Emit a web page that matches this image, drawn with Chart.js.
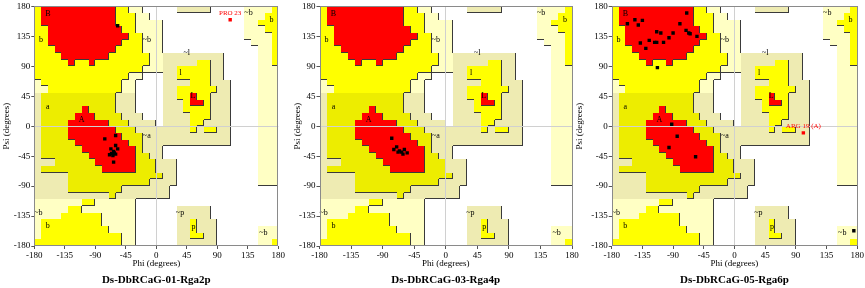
<!DOCTYPE html>
<html>
<head>
<meta charset="utf-8">
<script src="https://cdn.jsdelivr.net/npm/chart.js@4.4.1/dist/chart.umd.min.js"></script>
<style>
html, body { margin: 0; padding: 0; background: #fff; }
#wrap { position: relative; width: 865px; height: 288px; overflow: hidden; }
.box { position: absolute; top: 0; height: 288px; }
</style>
</head>
<body>
<div id="wrap">
  <div class="box" style="left:0px;width:290px"><canvas id="c1" width="290" height="288"></canvas></div>
  <div class="box" style="left:285px;width:295px"><canvas id="c2" width="295" height="288"></canvas></div>
  <div class="box" style="left:570px;width:295px"><canvas id="c3" width="295" height="288"></canvas></div>
</div>
<script>
// axis ticks (degrees)
const tickValues = [-180, -135, -90, -45, 0, 45, 90, 135, 180];

const titles = ['Ds-DbRCaG-01-Rga2p', 'Ds-DbRCaG-03-Rga4p', 'Ds-DbRCaG-05-Rga6p'];

// residues (phi, psi) for each model
const phi1 = [-57, -76, -60, -67, -60, -57, -63, -66, -62, -69, -60, -64, -63];
const psi1 = [151, -19, -14, -34, -29, -34, -38, -41, -40, -43, -42, -44, -54];

const phi2 = [-77, -74, -70, -66, -63, -59, -55, -61, -68];
const psi2 = [-18, -35, -31, -37, -39, -35, -40, -42, -39];

const phi3 = [-157, -146, -141, -135, -70, -80, -114, -108, -90, -71, -67, -65, -55,
              -138, -125, -130, -117, -114, -104, -96, -113, -92, -84, -96, -57, 175];
const psi3 = [154, 160, 152, 159, 170, 154, 142, 140, 140, 144, 140, 139, 135,
              125, 129, 117, 126, 126, 126, 133, 88, 3, -15, -32, -46, -157];

// residues in disallowed regions
const flagName = ['PRO 23', null, 'ARG 19 (A)'];
const flagPhi = [109, null, 101];
const flagPsi = [160, null, -10];

// region map, 10 degree cells; row 0 = psi 180..170, col 0 = phi -180..-170
// . disallowed, c/k generously allowed, y/a allowed, r core
const regionRows = [
  "yrrrrrrrrrrryycc.....kkkkk.....ccccy",
  "yrrrrrrrrrrryyycc..............cccyy",
  "yrrrrrrrrrrryyycccc............ccyyy",
  "yyrrrrrrrrrrryycccc............cccyy",
  "yyrrrrrrrrrrrryyccc............ccccy",
  "yyrrrrrrrrrrryyyccc.............cccy",
  "yyyrrrrrrrrryyyyccc..............ccy",
  "yyyyrrrrrrryyyyyycckkkkkkkkk.....ccy",
  "yyyyyryyryyyyyyyycckkkkkyykk.....ccy",
  "yyyyyyyyyyyyyyyyccckkyyyyykk.....ccc",
  "yyyyyyyyyyyyyycc...kkyyyyykk.....ccc",
  "cyyyyyyyyyyyycc....kkkkyyykkk....ccc",
  "ccyyyyyyyyyyycc....kkyyyyyykk....ccc",
  "kaaaaaaaaaaakkk....kkyyryykkk....ccc",
  "kaaaaaaaaaaakkk....kkkyrrykkk....ccc",
  "kaaaaaaraaaakkk....kkkyyyykkk....ccc",
  "kaaaaarrraaaakkk...kkkkyyykkk....ccc",
  "kaaaarrrrrraaakkkk.kkkkyykkkk....ccc",
  "kaaaarrrrrrraaakkkkkkkkykyykk....ccc",
  "kaaaarrrrrrrraaakkkkkkkkkkkkk....ccc",
  "kaaaaarrrrrrrraakkkkkkkkkkkkk....ccc",
  "kaaaaaarrrrrrrrakkk..............ccc",
  "kaaaaaaarrrrrrraakk..............ccc",
  "kkkaaaaaarrrrrraaakkk............ccc",
  "kaaaaaaaaarrrrraaakkk............ccc",
  "kkkkkaaaaaaaaaaaaaakk............ccc",
  "kkkkkaaaaaaaaaaaakkkk............ccc",
  "kkkkkaaaaaaaakkkkkkk................",
  "kkkkkkkkkkkakkkkkkkk................",
  "cccccccyycccccc.....................",
  "cccccyycccccccc......kkkkk..........",
  "ccccyyyyyyccccc......kkkkk..........",
  "cyyyyyyyyyccccc......kkykkk.........",
  "cyyyyyyyyyycccc......kkykkk......ccc",
  "cyyyyyyyyyyyycc......kkyykk......ccc",
  "yyyyyyyyyyyyycc......kkkkkk......ccy"
];
const regionColors = { c: '#FFFFC4', k: '#EEEBB2', y: '#FFFF00', a: '#EDED00', r: '#FF0000' };
const regionLevel = { '.': 0, c: 1, k: 1, y: 2, a: 2, r: 3 };

// region labels
const labelText = ['B', 'b', '~b', '~l', 'l', 'L', 'a', 'A', '~a', '~b', 'b', '~b', 'b', '~p', 'p', '~b'];
const labelPhi  = [-160, -170, -14, 45, 36, 54, -160, -110, -14, 136, 170, -174, -160, 35, 55, 158];
const labelPsi  = [169, 130, 130, 110, 80, 45, 29, 10, -15, 170, 160, -130, -150, -130, -151, -160];

const SERIF = "'Liberation Serif', 'Times New Roman', serif";

const regionPlugin = {
  id: 'regions',
  beforeDraw(chart) {
    const { ctx, scales: { x, y } } = chart;
    const px = v => Math.round(x.getPixelForValue(v));
    const py = v => Math.round(y.getPixelForValue(v));
    ctx.save();
    for (let r = 0; r < 36; r++) {
      for (let c = 0; c < 36; c++) {
        const code = regionRows[r][c];
        if (code === '.') continue;
        const x0 = px(-180 + c * 10), x1 = px(-170 + c * 10);
        const y0 = py(180 - r * 10), y1 = py(170 - r * 10);
        ctx.fillStyle = regionColors[code];
        ctx.fillRect(x0, y0, x1 - x0, y1 - y0);
      }
    }
    // dark edge on right / bottom side where the region drops a level
    ctx.fillStyle = '#3a3a3a';
    for (let r = 0; r < 36; r++) {
      for (let c = 0; c < 36; c++) {
        const lv = regionLevel[regionRows[r][c]];
        const x0 = px(-180 + c * 10), x1 = px(-170 + c * 10);
        const y0 = py(180 - r * 10), y1 = py(170 - r * 10);
        if (c < 35 && regionLevel[regionRows[r][c + 1]] < lv) ctx.fillRect(x1 - 1, y0, 1, y1 - y0);
        if (r < 35 && regionLevel[regionRows[r + 1][c]] < lv) ctx.fillRect(x0, y1 - 1, x1 - x0, 1);
      }
    }
    ctx.restore();
  },
  beforeDatasetsDraw(chart) {
    const { ctx, scales: { x, y } } = chart;
    ctx.save();
    ctx.fillStyle = '#000';
    ctx.font = '8px ' + SERIF;
    ctx.textAlign = 'center';
    ctx.textBaseline = 'middle';
    labelText.forEach((t, i) => {
      ctx.fillText(t, x.getPixelForValue(labelPhi[i]), y.getPixelForValue(labelPsi[i]));
    });
    ctx.restore();
  },
  afterDatasetsDraw(chart) {
    const { ctx, chartArea: a, scales: { x, y } } = chart;
    const k = chart.options.plugins.regions.index;
    ctx.save();
    ctx.strokeStyle = '#8a8a8a';
    ctx.lineWidth = 1;
    ctx.strokeRect(Math.round(a.left) + 0.5, Math.round(a.top) + 0.5,
                   Math.round(a.right - a.left) - 1, Math.round(a.bottom - a.top) - 1);
    if (flagName[k]) {
      ctx.fillStyle = '#FF0000';
      ctx.font = '7px ' + SERIF;
      ctx.textAlign = 'center';
      ctx.textBaseline = 'bottom';
      ctx.fillText(flagName[k], x.getPixelForValue(flagPhi[k]), y.getPixelForValue(flagPsi[k]) - 3);
    }
    // model name under the axis
    ctx.fillStyle = '#000';
    ctx.font = 'bold 11px ' + SERIF;
    ctx.textAlign = 'center';
    ctx.textBaseline = 'middle';
    ctx.fillText(titles[k], (a.left + a.right) / 2, 280);
    ctx.restore();
  }
};

function makeChart(id, k, phis, psis, yWidth, titlePad, rightPad) {
  const pts = phis.map((p, i) => ({ x: p, y: psis[i] }));
  const datasets = [{
    data: pts, pointStyle: 'rect', pointRadius: 2.4, backgroundColor: '#000', borderWidth: 0
  }];
  if (flagName[k]) {
    datasets.push({
      data: [{ x: flagPhi[k], y: flagPsi[k] }], pointStyle: 'rect', pointRadius: 2.4,
      backgroundColor: '#FF0000', borderWidth: 0
    });
  }
  const axis = (title, isX) => ({
    type: 'linear', min: -180, max: 180,
    afterBuildTicks: s => { s.ticks = tickValues.map(v => ({ value: v })); },
    afterFit: s => { if (isX) s.height = 26; else s.width = yWidth; },
    ticks: { font: { family: SERIF, size: 9 }, color: '#000', padding: 1, autoSkip: false, maxRotation: 0 },
    grid: {
      color: c => (c.tick && c.tick.value === 0) ? '#d0d0d0' : 'rgba(0,0,0,0)',
      tickColor: '#555', tickLength: 3, lineWidth: 1
    },
    border: { display: false },
    title: {
      display: true, text: title, color: '#000',
      font: { family: SERIF, size: 9 },
      padding: isX ? { top: 0, bottom: 2.6 } : { top: titlePad, bottom: 0 }
    }
  });
  return new Chart(document.getElementById(id), {
    type: 'scatter',
    data: { datasets },
    options: {
      responsive: false,
      animation: false,
      layout: { padding: { left: 0, right: rightPad, top: 6, bottom: 16 } },
      scales: { x: axis('Phi (degrees)', true), y: axis('Psi (degrees)', false) },
      plugins: {
        legend: { display: false },
        tooltip: { enabled: false },
        regions: { index: k }
      }
    },
    plugins: [regionPlugin]
  });
}

makeChart('c1', 0, phi1, psi1, 34.3, 1.5, 11.7);
makeChart('c2', 1, phi2, psi2, 34.5, 7.6, 8);
makeChart('c3', 2, phi3, psi3, 41.7, 4.6, 7.5);
</script>
</body>
</html>
